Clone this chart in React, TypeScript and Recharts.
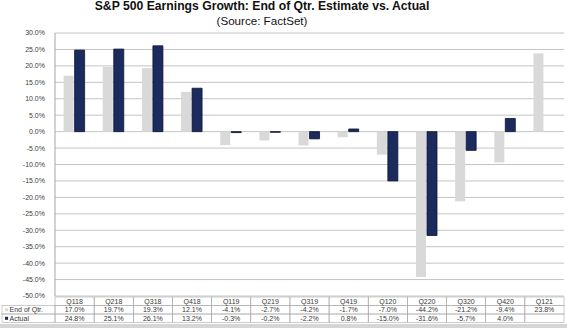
import React from 'react';
import { BarChart, Bar, XAxis, YAxis, CartesianGrid } from 'recharts';

const categories = ['Q118', 'Q218', 'Q318', 'Q418', 'Q119', 'Q219', 'Q319', 'Q419', 'Q120', 'Q220', 'Q320', 'Q420', 'Q121'];
const estimate = [17.0, 19.7, 19.3, 12.1, -4.1, -2.7, -4.2, -1.7, -7.0, -44.2, -21.2, -9.4, 23.8];
const actual: (number | null)[] = [24.8, 25.1, 26.1, 13.2, -0.3, -0.2, -2.2, 0.8, -15.0, -31.6, -5.7, 4.0, null];
const yTicks = [30, 25, 20, 15, 10, 5, 0, -5, -10, -15, -20, -25, -30, -35, -40, -45, -50];

const data = categories.map((c, i) => ({ q: c, est: estimate[i], act: actual[i] }));

const W = 567;
const H = 328;
const MARGIN = { top: 33, right: 3, left: 0, bottom: 6 };
const YW = 55;
const PLOT_W = W - MARGIN.left - MARGIN.right - YW;
const CELL_W = PLOT_W / categories.length;
const ROW_H = 8.5;
const LIGHT = '#d9d9d9';
const NAVY = '#1c2b5e';
const BORDER = '#a8a8a8';
const FONT = 'Arial, "Liberation Sans", sans-serif';

const fmt = (v: number | null) => (v === null || v === undefined ? '' : `${v.toFixed(1)}%`);

function TableTick(props: any) {
  const { x, y, payload } = props;
  const i = payload.index;
  const left = x - CELL_W / 2;
  const top = y + 1;
  const txt = { fontSize: 7, fill: '#383838', fontFamily: FONT, textAnchor: 'middle' as const };
  return (
    <g>
      {[0, 1, 2].map((r) => (
        <rect key={r} x={left} y={top + r * ROW_H} width={CELL_W} height={ROW_H} fill="none" stroke={BORDER} strokeWidth={0.6} />
      ))}
      <text x={x} y={top + ROW_H - 2} {...txt}>{categories[i]}</text>
      <text x={x} y={top + 2 * ROW_H - 2} {...txt}>{fmt(estimate[i])}</text>
      <text x={x} y={top + 3 * ROW_H - 2} {...txt}>{fmt(actual[i])}</text>
      {i === 0 && (
        <g>
          <rect x={2} y={top + ROW_H} width={left - 2} height={ROW_H} fill="none" stroke={BORDER} strokeWidth={0.6} />
          <rect x={2} y={top + 2 * ROW_H} width={left - 2} height={ROW_H} fill="none" stroke={BORDER} strokeWidth={0.6} />
          <rect x={5} y={top + ROW_H + 2.8} width={3} height={3} fill={LIGHT} />
          <rect x={5} y={top + 2 * ROW_H + 2.8} width={3} height={3} fill={NAVY} />
          <text x={9.5} y={top + 2 * ROW_H - 2} fontSize={7} fill="#383838" fontFamily={FONT}>End of Qtr.</text>
          <text x={9.5} y={top + 3 * ROW_H - 2} fontSize={7} fill="#383838" fontFamily={FONT}>Actual</text>
        </g>
      )}
    </g>
  );
}

export default function App() {
  return (
    <div style={{ position: 'absolute', left: 0, top: 0, width: W, height: H, background: '#fff', overflow: 'hidden' }}>
      <div style={{ position: 'absolute', left: 0, top: 0, width: 524, textAlign: 'center', fontFamily: FONT, color: '#111' }}>
        <div style={{ fontSize: 12.2, fontWeight: 'bold', lineHeight: '13px', marginTop: 0 }}>
          S&amp;P 500 Earnings Growth: End of Qtr. Estimate vs. Actual
        </div>
        <div style={{ fontSize: 11.6, lineHeight: '13px', marginTop: 0.5 }}>(Source: FactSet)</div>
      </div>
      <div style={{ position: 'absolute', left: 0, top: 0 }}>
        <BarChart width={W} height={H} data={data} margin={MARGIN} barCategoryGap="22%" barGap={1}>
          <CartesianGrid vertical={false} stroke="#c4c4c4" strokeWidth={1} />
          <XAxis
            dataKey="q"
            axisLine={false}
            tickLine={false}
            tickSize={0}
            tickMargin={0}
            height={26}
            interval={0}
            tick={<TableTick />}
          />
          <YAxis
            width={YW}
            domain={[-50, 30]}
            ticks={yTicks}
            interval={0}
            tickFormatter={(v: number) => `${v.toFixed(1)}%`}
            axisLine={{ stroke: '#a6a6a6' }}
            tickLine={false}
            tickMargin={4}
            tick={{ fontSize: 7, fill: '#404040', fontFamily: FONT }}
          />
          <Bar dataKey="est" fill={LIGHT} isAnimationActive={false} />
          <Bar dataKey="act" fill={NAVY} stroke="#0b1430" strokeWidth={0.8} isAnimationActive={false} />
        </BarChart>
      </div>
      <div style={{ position: 'absolute', left: 0, top: 324, width: W, height: 4, background: '#d6d6d6' }} />
    </div>
  );
}
